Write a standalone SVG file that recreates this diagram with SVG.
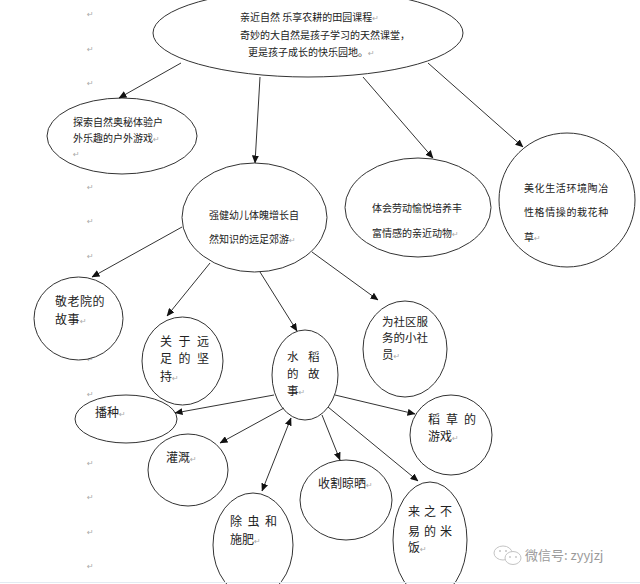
<svg xmlns="http://www.w3.org/2000/svg" width="640" height="584" viewBox="0 0 640 584">
<defs>
<marker id="ah" markerWidth="8" markerHeight="7" refX="7.5" refY="3.5" orient="auto" markerUnits="userSpaceOnUse">
<path d="M0,0 L8,3.5 L0,7 Z" fill="#111"/>
</marker>
<marker id="as" markerWidth="8" markerHeight="7" refX="0.5" refY="3.5" orient="auto" markerUnits="userSpaceOnUse">
<path d="M8,0 L0,3.5 L8,7 Z" fill="#111"/>
</marker>
<style>
.n ellipse{fill:#fff;stroke:#333;stroke-width:1}
.t{font-family:"Noto Sans CJK SC","Noto Sans CJK JP",sans-serif;font-size:10px;fill:#222}
.b{font-size:12px}
.s{font-size:11.5px}
.m{font-family:"DejaVu Sans",sans-serif;font-size:8px;fill:#aaa}
.c line{stroke:#333;stroke-width:1;marker-end:url(#ah)}
.w{font-family:"Noto Sans CJK SC",sans-serif;font-size:13px;fill:#9a9a9a}
</style>
</defs>
<rect width="640" height="584" fill="#fff"/>
<g id="marks" class="m">
<text x="87" y="17">↵</text><text x="87" y="52">↵</text><text x="87" y="86">↵</text>
<text x="87" y="190">↵</text><text x="87" y="224">↵</text><text x="87" y="259">↵</text>
<text x="87" y="362">↵</text><text x="87" y="397">↵</text><text x="87" y="466">↵</text>
<text x="87" y="500">↵</text><text x="87" y="535">↵</text><text x="87" y="569">↵</text>
</g>
<g id="n-top" class="n">
<ellipse cx="308" cy="33" rx="155" ry="44"/>
<text class="t" x="240" y="21">亲近自然 乐享农耕的田园课程<tspan class="m">↵</tspan></text>
<text class="t" x="240" y="39">奇妙的大自然是孩子学习的天然课堂，</text>
<text class="t" x="248" y="56">更是孩子成长的快乐园地。<tspan class="m">↵</tspan></text>
</g>
<g id="n-explore" class="n">
<ellipse cx="122" cy="136" rx="75" ry="38"/>
<text class="t" x="73" y="125.5">探索自然奥秘体验户</text>
<text class="t" x="73" y="142">外乐趣的户外游戏<tspan class="m">↵</tspan></text>
<text class="m" x="73" y="157">↵</text>
</g>
<g id="n-hike" class="n">
<ellipse cx="254.5" cy="217.5" rx="72.5" ry="54.5"/>
<text class="t" x="209" y="218.5">强健幼儿体魄增长自</text>
<text class="t" x="209" y="242.5">然知识的远足郊游<tspan class="m">↵</tspan></text>
</g>
<g id="n-animal" class="n">
<ellipse cx="418" cy="207.5" rx="73" ry="49.5"/>
<text class="t" x="372" y="211.5">体会劳动愉悦培养丰</text>
<text class="t" x="372" y="236.5">富情感的亲近动物<tspan class="m">↵</tspan></text>
</g>
<g id="n-flower" class="n">
<ellipse cx="567" cy="200" rx="68" ry="67"/>
<text class="t" x="524" y="191.5" letter-spacing="0.6">美化生活环境陶冶</text>
<text class="t" x="524" y="215.5" letter-spacing="0.6">性格情操的栽花种</text>
<text class="t" x="524" y="240.5">草<tspan class="m">↵</tspan></text>
</g>
<g id="n-elder" class="n">
<ellipse cx="78.5" cy="318.5" rx="44.5" ry="41.5"/>
<text class="t b" x="55" y="306" letter-spacing="0.5">敬老院的</text>
<text class="t b" x="55" y="324" letter-spacing="0.5">故事<tspan class="m">↵</tspan></text>
</g>
<g id="n-persist" class="n">
<ellipse cx="182.5" cy="361" rx="40.5" ry="44"/>
<text class="t b" x="160" y="346" letter-spacing="6.5">关于远</text>
<text class="t b" x="160" y="363" letter-spacing="6.5">足的坚</text>
<text class="t b" x="160" y="381">持<tspan class="m">↵</tspan></text>
</g>
<g id="n-rice" class="n">
<ellipse cx="305" cy="375" rx="33" ry="45"/>
<text class="t s" x="287" y="361" letter-spacing="9.5">水稻</text>
<text class="t s" x="287" y="377.5" letter-spacing="9.5">的故</text>
<text class="t s" x="287" y="394.5">事<tspan class="m">↵</tspan></text>
</g>
<g id="n-serve" class="n">
<ellipse cx="405" cy="349" rx="42" ry="48"/>
<text class="t s" x="382" y="326">为社区服</text>
<text class="t s" x="382" y="342">务的小社</text>
<text class="t s" x="382" y="359">员<tspan class="m">↵</tspan></text>
</g>
<g id="n-sow" class="n">
<ellipse cx="126" cy="419" rx="51" ry="24"/>
<text class="t b" x="95" y="417">播种<tspan class="m">↵</tspan></text>
</g>
<g id="n-water" class="n">
<ellipse cx="188" cy="470" rx="40" ry="36"/>
<text class="t b" x="166" y="462">灌溉<tspan class="m">↵</tspan></text>
</g>
<g id="n-straw" class="n">
<ellipse cx="451" cy="435" rx="41" ry="40"/>
<text class="t b" x="428" y="424" letter-spacing="6">稻草的</text>
<text class="t b" x="428" y="441">游戏<tspan class="m">↵</tspan></text>
</g>
<g id="n-harvest" class="n">
<ellipse cx="346" cy="500" rx="46" ry="40"/>
<text class="t b" x="318" y="488">收割晾晒<tspan class="m">↵</tspan></text>
</g>
<g id="n-pest" class="n">
<ellipse cx="253" cy="545" rx="40" ry="52"/>
<text class="t b" x="230" y="526" letter-spacing="5.5">除虫和</text>
<text class="t b" x="230" y="544">施肥<tspan class="m">↵</tspan></text>
</g>
<g id="n-meal" class="n">
<ellipse cx="430" cy="540" rx="37" ry="58"/>
<text class="t b" x="408" y="516" letter-spacing="4">来之不</text>
<text class="t b" x="408" y="536" letter-spacing="4">易的米</text>
<text class="t b" x="408" y="552">饭<tspan class="m">↵</tspan></text>
</g>
<g id="connectors" class="c">
<line x1="181" y1="63" x2="119" y2="98"/>
<line x1="260" y1="77" x2="255" y2="163"/>
<line x1="363" y1="77" x2="433" y2="158"/>
<line x1="428" y1="63" x2="523" y2="147"/>
<line x1="182" y1="227" x2="92" y2="277"/>
<line x1="210" y1="263" x2="167" y2="316"/>
<line x1="260" y1="272" x2="297" y2="331"/>
<line x1="312" y1="252" x2="378" y2="300"/>
<line x1="274" y1="395" x2="175" y2="413"/>
<line x1="284" y1="408" x2="220" y2="443"/>
<line x1="291" y1="418" x2="262" y2="491" marker-start="url(#as)"/>
<line x1="335" y1="395" x2="415" y2="414"/>
<line x1="322" y1="415" x2="340" y2="460"/>
<line x1="328" y1="407" x2="418" y2="481"/>
</g>
<g id="watermark">
<ellipse cx="503" cy="553" rx="9" ry="7" fill="none" stroke="#c4c4c4" stroke-width="1"/>
<ellipse cx="513" cy="558" rx="8" ry="6.5" fill="#fff" stroke="#c4c4c4" stroke-width="1"/>
<circle cx="500" cy="551" r="1" fill="#c4c4c4"/><circle cx="506" cy="551" r="1" fill="#c4c4c4"/>
<circle cx="510" cy="557" r="0.9" fill="#c4c4c4"/><circle cx="516" cy="557" r="0.9" fill="#c4c4c4"/>
<text class="w" x="525" y="560">微信号: zyyjzj</text>
<line x1="0" y1="582.5" x2="640" y2="582.5" stroke="#e3ebf2" stroke-width="1"/>
</g>
</svg>
